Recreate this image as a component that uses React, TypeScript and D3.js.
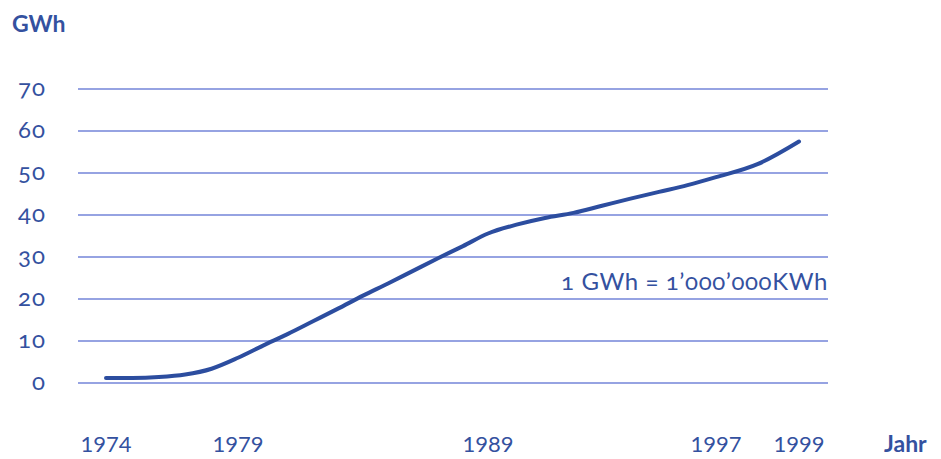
import { useMemo } from "react";
import * as d3 from "d3";

const years = [1974, 1975, 1976, 1977, 1978, 1979, 1980, 1981, 1982, 1983, 1984, 1985, 1986, 1987, 1988, 1989, 1990, 1991, 1992, 1993, 1994, 1995, 1996, 1997, 1998, 1999];
const gwh = [1.2, 1.2, 1.4, 2.0, 3.4, 6.0, 8.9, 11.7, 14.7, 17.7, 20.8, 23.7, 26.7, 29.7, 32.6, 35.6, 37.7, 39.3, 40.5, 42.2, 43.9, 45.5, 47.1, 49.0, 52.1, 57.5];
const yTicks = [0, 10, 20, 30, 40, 50, 60, 70];
const yearLabels = [1974, 1979, 1989, 1997, 1999];

const W = 941;
const H = 459;
const textColor = "#34519f";
const gridColor = "#7384d9";
const lineColor = "#2c4d9f";
const font = "Lato, 'Open Sans', sans-serif";
const oldstyle = { fontVariantNumeric: "oldstyle-nums", fontFeatureSettings: "'onum' 1" } as const;

export default function App() {
  // the year axis of the original is not evenly spaced, so map it piece by piece
  const x = useMemo(
    () => d3.scaleLinear().domain(yearLabels).range([106, 238, 488, 716, 799]),
    []
  );
  const y = useMemo(() => d3.scaleLinear().domain([0, 70]).range([383, 89]), []);

  const path = useMemo(() => {
    const gen = d3
      .line<number>()
      .x((_, i) => x(years[i]))
      .y((d) => y(d))
      .curve(d3.curveMonotoneX);
    return gen(gwh) || "";
  }, [x, y]);

  return (
    <svg
      width={W}
      height={H}
      style={{ position: "absolute", left: 0, top: 0, background: "#fff" }}
      fontFamily={font}
    >
      <text x={12} y={32} fontSize={23} fontWeight={700} fill={textColor}>
        GWh
      </text>

      {yTicks.map((t) => (
        <g key={t}>
          <line x1={78} x2={828} y1={y(t)} y2={y(t)} stroke={gridColor} strokeWidth={1.3} />
          <text
            x={46}
            y={y(t) + 7}
            fontSize={24}
            textAnchor="end"
            fill={textColor}
            letterSpacing={1}
            style={oldstyle}
          >
            {t}
          </text>
        </g>
      ))}

      <path d={path} fill="none" stroke={lineColor} strokeWidth={4} strokeLinecap="round" />

      <text
        x={828}
        y={290}
        fontSize={24}
        textAnchor="end"
        fill={textColor}
        letterSpacing={0.6}
        style={oldstyle}
      >
        1 GWh = 1’000’000KWh
      </text>

      {yearLabels.map((yr) => (
        <text key={yr} x={x(yr)} y={452} fontSize={22} textAnchor="middle" fill={textColor}>
          {yr}
        </text>
      ))}

      <text x={884} y={452} fontSize={23} fontWeight={700} fill={textColor}>
        Jahr
      </text>
    </svg>
  );
}
